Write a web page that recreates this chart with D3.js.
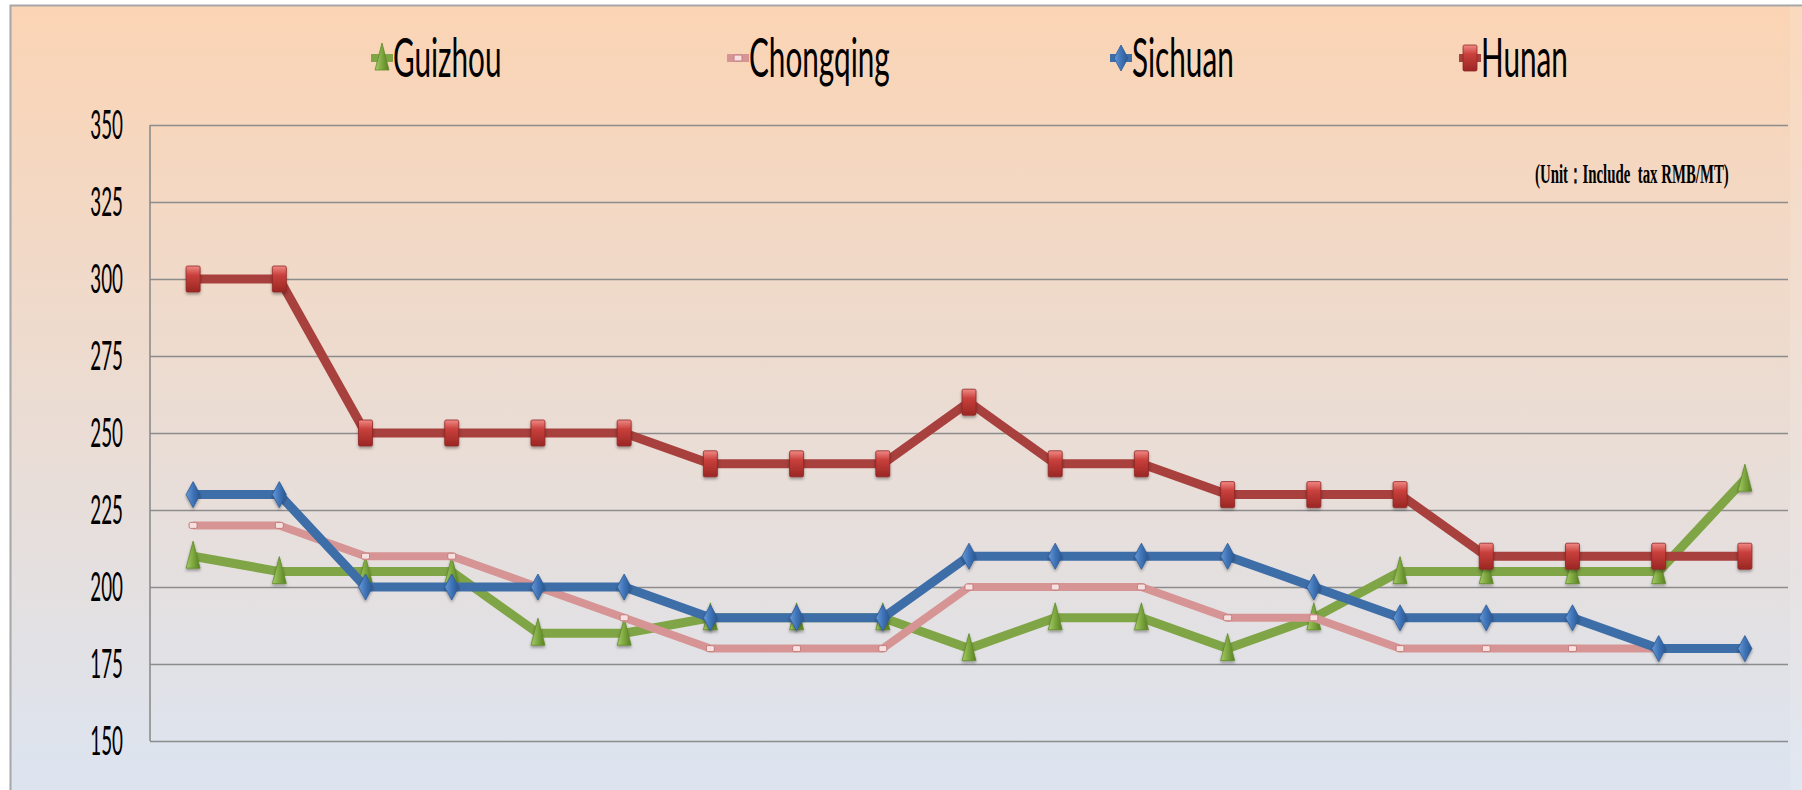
<!DOCTYPE html>
<html>
<head>
<meta charset="utf-8">
<script src="https://cdn.jsdelivr.net/npm/d3@7"></script>
<style>
  body { margin: 0; background: #fff; }
  svg { display: block; }
</style>
</head>
<body>
<svg width="1802" height="790"></svg>
<script>
// weekly price points, no x labels in the original
var categories = d3.range(1, 20).map(function(i) { return "W" + i; });

var guizhou   = [210, 205, 205, 205, 185, 185, 190, 190, 190, 180, 190, 190, 180, 190, 205, 205, 205, 205, 235];
var chongqing = [220, 220, 210, 210, 200, 190, 180, 180, 180, 200, 200, 200, 190, 190, 180, 180, 180, 180, null];
var sichuan   = [230, 230, 200, 200, 200, 200, 190, 190, 190, 210, 210, 210, 210, 200, 190, 190, 190, 180, 180];
var hunan     = [300, 300, 250, 250, 250, 250, 240, 240, 240, 260, 240, 240, 230, 230, 230, 210, 210, 210, 210];

var yTicks = [150, 175, 200, 225, 250, 275, 300, 325, 350];
var unitLabel = "(Unit：Include  tax RMB/MT)";

var series = [
  {name: "Guizhou",   values: guizhou,   color: "#80a546", width: 9, marker: "triangle"},
  {name: "Chongqing", values: chongqing, color: "#d69594", width: 8, marker: "small"},
  {name: "Sichuan",   values: sichuan,   color: "#3e6ea8", width: 9, marker: "diamond"},
  {name: "Hunan",     values: hunan,     color: "#a8403d", width: 9, marker: "square"}
];

var svg = d3.select("svg"),
    width = +svg.attr("width"),
    height = +svg.attr("height");

var plot = {left: 150, right: 1788, top: 125, bottom: 741};

var defs = svg.append("defs");

var bg = defs.append("linearGradient").attr("id", "bg")
    .attr("x1", 0).attr("y1", 0).attr("x2", 0).attr("y2", 1);
bg.append("stop").attr("offset", "0%").attr("stop-color", "#fbd4b4");
bg.append("stop").attr("offset", "100%").attr("stop-color", "#dce4f0");

function grad(id, x2, y2, stops) {
  var g = defs.append("linearGradient").attr("id", id)
      .attr("x1", 0).attr("y1", 0).attr("x2", x2).attr("y2", y2);
  stops.forEach(function(s) {
    g.append("stop").attr("offset", s[0]).attr("stop-color", s[1]);
  });
}
grad("gRed", 0, 1, [["0%", "#f08a86"], ["35%", "#c9403c"], ["100%", "#9a2724"]]);
grad("gBlue", 1, 0, [["0%", "#6a9ad6"], ["50%", "#3f74b8"], ["100%", "#2a5690"]]);
grad("gGreen", 1, 0, [["0%", "#a7cc68"], ["50%", "#7da73f"], ["100%", "#587f22"]]);

var shadow = defs.append("filter").attr("id", "shadow")
    .attr("x", "-50%").attr("y", "-50%").attr("width", "200%").attr("height", "200%");
shadow.append("feDropShadow").attr("dx", 0).attr("dy", 2).attr("stdDeviation", 1.5)
    .attr("flood-color", "#000").attr("flood-opacity", 0.35);

// chart area background + frame (top and left edges only)
svg.append("rect")
    .attr("x", 10).attr("y", 5)
    .attr("width", width - 10).attr("height", height - 5)
    .attr("fill", "url(#bg)");
svg.append("path")
    .attr("d", "M10.5," + height + "V5.5H" + width)
    .attr("fill", "none")
    .attr("stroke", "#a6a6a6").attr("stroke-width", 2);
// slightly lighter strip right of the plot
svg.append("rect")
    .attr("x", 1790).attr("y", 6)
    .attr("width", width - 1790).attr("height", height)
    .attr("fill", "#fff").attr("opacity", 0.12);

var x = d3.scalePoint()
    .domain(categories)
    .range([plot.left, plot.right])
    .padding(0.5);

var y = d3.scaleLinear()
    .domain([150, 350])
    .range([plot.bottom, plot.top]);

// gridlines + y labels
var tickSx = 0.47;
var yAxis = svg.append("g")
    .attr("transform", "translate(" + plot.left + ",0)")
    .call(d3.axisLeft(y)
        .tickValues(yTicks)
        .tickSize(-(plot.right - plot.left))
        .tickPadding(0));

yAxis.select(".domain").remove();
yAxis.selectAll(".tick line")
    .attr("stroke", "#8c8c8c")
    .attr("stroke-width", 1.6);
yAxis.selectAll(".tick text")
    .attr("fill", "#000")
    .style("font-family", "Lato, 'Open Sans', sans-serif")
    .style("font-size", "40px")
    .attr("x", -27 / tickSx)
    .attr("dy", "0.34em")
    .attr("transform", "scale(" + tickSx + ",1)");

svg.append("line")
    .attr("x1", plot.left).attr("x2", plot.left)
    .attr("y1", plot.top).attr("y2", plot.bottom)
    .attr("stroke", "#8c8c8c").attr("stroke-width", 1.6);

// unit note
svg.append("g")
    .attr("transform", "translate(1535,183)")
  .append("text")
    .attr("transform", "scale(0.53,1)")
    .style("font-family", "'Liberation Serif', 'Times New Roman', serif")
    .style("font-weight", "bold")
    .style("font-size", "28px")
    .style("white-space", "pre")
    .attr("fill", "#000")
    .text(unitLabel);

// markers
function drawMarker(sel, type) {
  if (type === "square") {
    sel.append("rect")
        .attr("x", -7).attr("y", -13).attr("width", 14).attr("height", 26)
        .attr("rx", 1.5)
        .attr("fill", "url(#gRed)")
        .attr("stroke", "#8e2623").attr("stroke-width", 0.8);
  } else if (type === "diamond") {
    sel.append("path")
        .attr("d", "M0,-13L7,0L0,13L-7,0Z")
        .attr("fill", "url(#gBlue)")
        .attr("stroke", "#2f5c95").attr("stroke-width", 0.8);
  } else if (type === "triangle") {
    sel.append("path")
        .attr("d", "M0,-15L7,12L-7,12Z")
        .attr("fill", "url(#gGreen)")
        .attr("stroke", "#5f8a2a").attr("stroke-width", 0.8);
  } else {
    sel.append("rect")
        .attr("x", -4).attr("y", -3).attr("width", 8).attr("height", 6)
        .attr("rx", 1.5)
        .attr("fill", "#f6e1e0")
        .attr("stroke", "#c47b7a").attr("stroke-width", 1);
  }
}

var line = d3.line()
    .defined(function(d) { return d != null; })
    .x(function(d, i) { return x(categories[i]); })
    .y(function(d) { return y(d); });

series.forEach(function(s) {
  var g = svg.append("g").attr("class", "series");
  g.append("path")
      .datum(s.values)
      .attr("d", line)
      .attr("fill", "none")
      .attr("stroke", s.color)
      .attr("stroke-width", s.width)
      .attr("stroke-linejoin", "round");

  g.selectAll(".pt")
      .data(s.values.map(function(v, i) { return {v: v, i: i}; })
                    .filter(function(d) { return d.v != null; }))
    .enter().append("g")
      .attr("class", "pt")
      .attr("filter", s.marker === "small" ? null : "url(#shadow)")
      .attr("transform", function(d) {
        return "translate(" + x(categories[d.i]) + "," + y(d.v) + ")";
      })
      .each(function() { drawMarker(d3.select(this), s.marker); });
});

// legend
var legendX = [382, 738, 1121, 1470];
var legend = svg.append("g").attr("class", "legend");
series.forEach(function(s, i) {
  var item = legend.append("g")
      .attr("transform", "translate(" + legendX[i] + ",58)");
  item.append("line")
      .attr("x1", -11).attr("x2", 11)
      .attr("stroke", s.color).attr("stroke-width", 8);
  drawMarker(item, s.marker);
  item.append("text")
      .attr("transform", "translate(11,19) scale(0.55,1)")
      .style("font-family", "Lato, 'Open Sans', sans-serif")
      .style("font-size", "54px")
      .attr("fill", "#000")
      .text(s.name);
});
</script>
</body>
</html>
